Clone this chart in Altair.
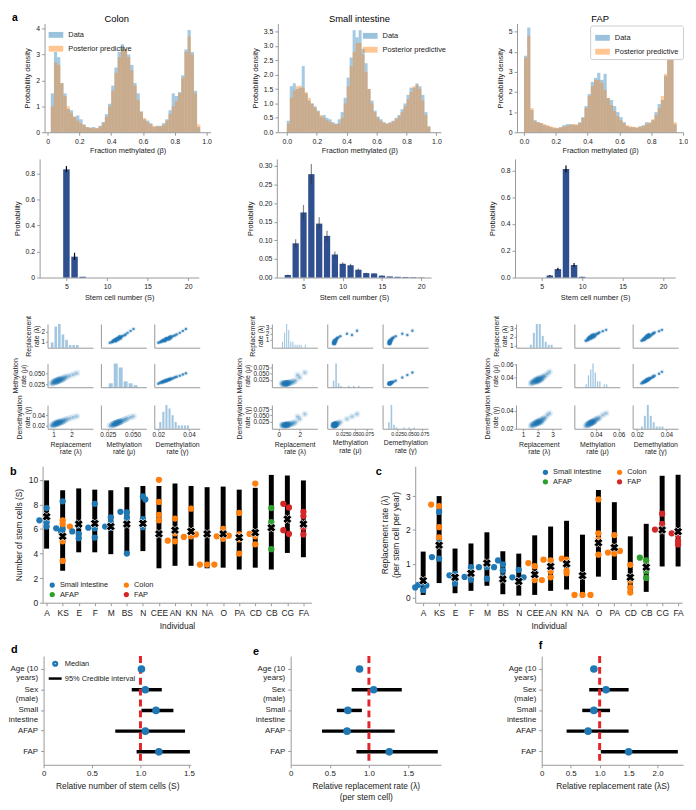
import altair as alt
import pandas as pd

FONT = "Liberation Sans"
BLUE = "#1f77b4"
ORANGE = "#ff7f0e"
GREEN = "#2ca02c"
RED = "#d62728"
BAR = "#2f4f8f"

# ---------------- a, row 1: methylation histograms (50 bins on [0, 1]) ----------------
colon_data = [0, 1.5, 3.1, 2.9, 1.9, 1.5, 0.9, 0.85, 0.6, 0.65, 0.5, 0.3, 0.2, 0.18, 0.2, 0.15, 0.25, 0.4, 0.7, 1.1,
              1.8, 2.5, 3.1, 3.4, 3.2, 3.0, 2.6, 1.9, 1.5, 0.8, 0.5, 0.45, 0.35, 0.2, 0.25, 0.25, 0.35, 0.5, 0.85, 1.5,
              1.4, 1.55, 2.2, 3.2, 3.95, 3.1, 1.6, 0.2, 0, 0]
colon_pred = [0, 1.0, 2.7, 2.6, 1.9, 1.4, 1.0, 0.75, 0.6, 0.45, 0.35, 0.28, 0.2, 0.17, 0.15, 0.17, 0.22, 0.35, 0.6, 1.0,
              1.6, 2.3, 2.9, 3.2, 3.2, 2.9, 2.4, 1.8, 1.25, 0.8, 0.55, 0.4, 0.3, 0.25, 0.22, 0.22, 0.3, 0.45, 0.7, 1.0,
              1.2, 1.5, 2.1, 3.1, 3.7, 3.0, 1.5, 0.3, 0, 0]
si_data = [0.4, 1.6, 1.7, 1.5, 1.55, 2.3, 1.35, 1.1, 1.0, 0.9, 0.75, 0.55, 0.6, 0.5, 0.45, 0.35, 0.3, 0.45, 0.7, 1.2,
           1.9, 2.6, 3.55, 3.3, 3.55, 2.9, 2.4, 1.5, 1.1, 0.75, 0.55, 0.45, 0.35, 0.3, 0.35, 0.4, 0.5, 0.6, 0.8, 1.0,
           1.3, 1.55, 1.55, 1.7, 1.6, 1.3, 0.7, 0.2, 0, 0]
si_pred = [0.3, 1.2, 1.45, 1.6, 1.62, 1.55, 1.4, 1.2, 1.0, 0.85, 0.72, 0.6, 0.5, 0.42, 0.35, 0.3, 0.28, 0.3, 0.5, 1.0,
           1.6, 2.3, 2.8, 3.1, 3.1, 2.7, 2.1, 1.5, 1.0, 0.7, 0.5, 0.4, 0.33, 0.3, 0.32, 0.38, 0.45, 0.55, 0.7, 0.9,
           1.15, 1.4, 1.6, 1.65, 1.5, 1.1, 0.6, 0.2, 0, 0]
fap_data = [3.8, 5.2, 1.1, 0.6, 0.5, 0.45, 0.35, 0.3, 0.25, 0.2, 0.2, 0.25, 0.35, 0.4, 0.4, 0.38, 0.35, 0.5, 0.75, 1.3,
            1.9, 2.5, 2.7, 2.95, 2.6, 2.9, 1.7, 1.6, 1.3, 1.0, 0.75, 0.5, 0.3, 0.25, 0.25, 0.22, 0.3, 0.35, 0.5, 0.45,
            0.6, 1.0, 1.4, 1.6, 2.8, 4.3, 3.8, 0.4, 0, 0]
fap_pred = [3.7, 4.8, 1.2, 0.55, 0.5, 0.45, 0.4, 0.35, 0.3, 0.25, 0.22, 0.25, 0.28, 0.32, 0.38, 0.4, 0.4, 0.45, 0.7, 1.2,
            1.8, 2.3, 2.6, 2.6, 2.45, 2.1, 1.7, 1.35, 1.05, 0.8, 0.6, 0.45, 0.35, 0.3, 0.27, 0.25, 0.27, 0.32, 0.4, 0.5,
            0.65, 0.85, 1.2, 1.8, 2.9, 4.3, 3.6, 0.5, 0, 0]

# ---------------- a, row 2: stem cell number posteriors ----------------
colon_S = [5, 6, 7]
colon_p = [0.83, 0.16, 0.006]
colon_lo = [0.81, 0.135, 0.006]
colon_hi = [0.855, 0.19, 0.006]
si_S = list(range(3, 21))
si_p = [0.007, 0.092, 0.175, 0.278, 0.145, 0.112, 0.062, 0.037, 0.033, 0.021, 0.012, 0.011, 0.005, 0.003, 0.002, 0.0015, 0.001, 0.0006]
si_lo = [0.006, 0.082, 0.155, 0.250, 0.130, 0.098, 0.055, 0.033, 0.029, 0.019, 0.011, 0.010, 0.004, 0.003, 0.002, 0.0015, 0.001, 0.0006]
si_hi = [0.008, 0.103, 0.195, 0.305, 0.162, 0.126, 0.070, 0.041, 0.037, 0.024, 0.013, 0.012, 0.006, 0.003, 0.002, 0.0015, 0.001, 0.0006]
fap_S = [6, 7, 8, 9, 10]
fap_p = [0.015, 0.063, 0.81, 0.093, 0.005]
fap_lo = [0.012, 0.055, 0.785, 0.08, 0.004]
fap_hi = [0.018, 0.072, 0.835, 0.108, 0.006]

# ---------------- a, rows 3-5: posterior samples (lambda, mu, gamma) ----------------
colon_lam = [1.10, 1.25, 1.35, 1.05, 1.45, 1.20, 0.95, 1.60, 1.30, 1.15, 1.75, 1.40, 1.00, 1.25, 1.90, 1.50, 1.10, 1.35, 2.10, 1.22, 0.90, 1.65, 1.28, 1.18, 1.45, 1.05, 2.30, 1.33, 1.12, 1.55]
colon_mu = [0.032, 0.034, 0.036, 0.030, 0.038, 0.033, 0.029, 0.040, 0.035, 0.031, 0.043, 0.037, 0.030, 0.033, 0.045, 0.039, 0.031, 0.034, 0.048, 0.036, 0.027, 0.042, 0.035, 0.032, 0.036, 0.033, 0.051, 0.038, 0.034, 0.037]
colon_gam = [0.023, 0.025, 0.026, 0.022, 0.028, 0.024, 0.021, 0.030, 0.026, 0.023, 0.032, 0.027, 0.022, 0.025, 0.034, 0.029, 0.023, 0.025, 0.036, 0.027, 0.020, 0.031, 0.026, 0.024, 0.027, 0.024, 0.038, 0.028, 0.025, 0.028]
si_lam = [0.55, 0.75, 0.65, 0.85, 0.45, 1.00, 0.70, 0.60, 1.20, 0.80, 0.35, 0.95, 0.72, 1.40, 0.58, 0.88, 1.60, 0.68, 0.50, 1.05, 2.00, 0.78, 0.62, 1.30, 2.50, 0.40, 0.92, 1.80, 0.30, 0.82]
si_mu = [0.010, 0.011, 0.009, 0.012, 0.009, 0.013, 0.010, 0.011, 0.015, 0.012, 0.008, 0.011, 0.010, 0.018, 0.009, 0.013, 0.022, 0.010, 0.012, 0.014, 0.035, 0.011, 0.010, 0.016, 0.055, 0.009, 0.012, 0.045, 0.011, 0.010]
si_gam = [0.010, 0.011, 0.009, 0.012, 0.009, 0.013, 0.010, 0.011, 0.015, 0.011, 0.008, 0.012, 0.010, 0.018, 0.009, 0.013, 0.022, 0.010, 0.012, 0.014, 0.035, 0.011, 0.010, 0.016, 0.055, 0.009, 0.012, 0.045, 0.011, 0.010]
fap_lam = [1.90, 2.05, 1.75, 2.20, 1.95, 1.60, 2.35, 2.00, 1.85, 2.10, 2.50, 1.80, 2.15, 1.70, 2.25, 1.98, 2.65, 1.92, 2.08, 1.55, 2.30, 1.88, 2.02, 2.40, 1.78, 2.12, 1.65, 2.80, 1.95, 2.18]
fap_mu = [0.035, 0.037, 0.034, 0.039, 0.036, 0.032, 0.041, 0.035, 0.033, 0.038, 0.043, 0.036, 0.037, 0.033, 0.040, 0.034, 0.046, 0.036, 0.039, 0.031, 0.038, 0.035, 0.036, 0.042, 0.034, 0.037, 0.033, 0.049, 0.038, 0.036]
fap_gam = [0.026, 0.027, 0.025, 0.029, 0.027, 0.024, 0.031, 0.026, 0.025, 0.028, 0.032, 0.026, 0.028, 0.024, 0.030, 0.026, 0.035, 0.027, 0.029, 0.023, 0.028, 0.026, 0.027, 0.031, 0.025, 0.027, 0.025, 0.037, 0.028, 0.027]

# ---------------- b, c: per-individual estimates ----------------
individuals = ["A", "KS", "E", "F", "M", "BS", "N", "CEE", "AN", "KN", "NA", "O", "PA", "CD", "CB", "CG", "FA"]
S_lo = [4.4, 2.6, 4.1, 4.1, 3.95, 3.95, 4.2, 2.8, 3.0, 3.0, 2.8, 2.85, 2.7, 2.85, 2.7, 4.05, 3.7]
S_hi = [9.95, 9.15, 9.3, 9.2, 9.15, 9.4, 9.5, 9.5, 9.7, 9.5, 9.4, 9.45, 9.2, 9.35, 10.4, 10.35, 9.95]
S_med = [7.0, 5.4, 6.4, 6.45, 6.2, 6.4, 6.45, 5.6, 5.9, 5.8, 5.6, 5.6, 5.3, 5.7, 6.1, 6.8, 6.4]
SI, CO, AF, FP = "Small intestine", "Colon", "AFAP", "FAP"
S_points = [
    ("A", -0.45, 6.7, SI), ("A", 0, 7.7, SI), ("A", 0, 6.55, SI), ("A", 0, 6.2, SI),
    ("KS", -0.4, 6.05, SI), ("KS", 0, 8.25, SI), ("KS", 0, 6.0, SI), ("KS", -0.1, 5.8, SI),
    ("KS", 0.45, 6.2, CO), ("KS", 0, 6.7, CO), ("KS", 0, 6.4, CO), ("KS", 0, 5.0, CO), ("KS", 0, 3.4, CO),
    ("E", -0.4, 5.8, SI), ("E", 0, 6.4, SI), ("E", 0, 5.6, SI), ("E", 0, 5.25, SI), ("E", 0, 6.3, SI),
    ("F", -0.4, 6.1, SI), ("F", 0, 8.05, SI), ("F", 0, 6.05, SI), ("F", 0, 5.3, SI),
    ("M", -0.35, 6.2, SI), ("M", 0, 6.95, SI), ("M", 0, 6.5, SI), ("M", 0, 6.1, SI),
    ("BS", -0.4, 7.4, SI), ("BS", 0, 7.35, SI), ("BS", 0, 6.9, SI), ("BS", 0, 4.0, SI),
    ("N", 0, 8.65, SI), ("N", 0.15, 8.4, SI), ("N", 0, 6.8, SI), ("N", 0, 6.15, SI),
    ("CEE", 0, 10.0, CO), ("CEE", 0, 8.2, CO), ("CEE", 0, 7.15, CO), ("CEE", 0, 6.7, CO),
    ("AN", -0.45, 5.05, CO), ("AN", 0, 6.85, CO), ("AN", 0, 5.65, CO), ("AN", 0, 5.0, CO),
    ("KN", -0.45, 5.35, CO), ("KN", 0, 7.65, CO), ("KN", 0, 5.4, CO), ("KN", 0.3, 5.55, CO),
    ("NA", -0.45, 3.1, CO), ("NA", 0, 3.1, CO), ("NA", 0.45, 3.1, CO),
    ("O", -0.4, 5.4, CO), ("O", 0, 6.0, CO), ("O", 0, 5.2, CO), ("O", 0.35, 5.45, CO),
    ("PA", 0, 7.3, CO), ("PA", 0, 5.55, CO), ("PA", 0, 5.15, CO), ("PA", 0, 4.0, CO),
    ("CD", -0.35, 5.6, CO), ("CD", 0, 9.7, CO), ("CD", 0, 5.4, CO), ("CD", 0, 4.75, CO),
    ("CB", 0, 7.7, AF), ("CB", 0, 6.55, AF), ("CB", 0, 6.1, AF), ("CB", 0, 4.35, AF),
    ("CG", -0.25, 8.05, FP), ("CG", 0.1, 7.75, FP), ("CG", -0.25, 5.9, FP), ("CG", 0.1, 5.6, FP),
    ("FA", 0, 7.4, FP), ("FA", 0, 7.05, FP), ("FA", 0, 6.1, FP), ("FA", 0, 5.55, FP),
]
L_lo = [0.08, 0.43, 0.13, 0.2, 0.35, 0.1, 0.06, 0.08, 0.2, 0.24, 0.05, 0.62, 0.52, 0.17, 0.17, 0.92, 0.92]
L_hi = [1.36, 3.0, 1.45, 1.6, 1.93, 1.37, 1.3, 1.84, 2.1, 2.27, 1.86, 3.18, 2.82, 1.81, 2.18, 3.6, 3.63]
L_med = [0.5, 1.55, 0.6, 0.72, 1.02, 0.55, 0.48, 0.68, 0.92, 1.0, 0.65, 1.62, 1.48, 0.6, 0.9, 2.0, 1.95]
L_points = [
    ("A", -0.5, 0.3, SI), ("A", -0.3, 0.38, SI), ("A", 0, 0.22, SI), ("A", 0.2, 0.36, SI), ("A", 0, 0.42, SI),
    ("KS", -0.5, 2.75, CO), ("KS", 0, 2.7, CO), ("KS", 0, 2.08, CO), ("KS", 0, 1.78, CO),
    ("KS", 0, 2.53, SI), ("KS", -0.45, 1.2, SI), ("KS", 0, 1.62, SI), ("KS", 0, 1.15, SI),
    ("E", -0.35, 0.66, SI), ("E", 0, 0.7, SI), ("E", 0, 0.6, SI), ("E", 0, 0.42, SI),
    ("F", -0.4, 0.61, SI), ("F", 0, 0.9, SI), ("F", 0, 0.82, SI), ("F", 0, 0.53, SI),
    ("M", -0.5, 0.9, SI), ("M", 0, 0.9, SI), ("M", 0.45, 0.9, SI), ("M", 0, 0.56, SI),
    ("BS", -0.3, 1.1, SI), ("BS", 0, 0.98, SI), ("BS", 0, 0.8, SI), ("BS", 0, 0.6, SI),
    ("N", -0.4, 0.6, SI), ("N", 0, 0.82, SI), ("N", 0.3, 0.6, SI), ("N", 0, 0.5, SI),
    ("CEE", -0.4, 1.02, CO), ("CEE", 0, 0.93, CO), ("CEE", 0, 0.52, CO), ("CEE", 0.45, 0.52, CO),
    ("AN", -0.45, 1.12, CO), ("AN", 0, 1.1, CO), ("AN", 0, 0.78, CO), ("AN", 0, 0.6, CO),
    ("KN", -0.3, 1.15, CO), ("KN", 0, 1.12, CO), ("KN", 0, 0.8, CO), ("KN", 0, 0.72, CO),
    ("NA", -0.5, 0.08, CO), ("NA", 0, 0.08, CO), ("NA", 0.5, 0.08, CO),
    ("O", 0, 2.9, CO), ("O", 0, 1.9, CO), ("O", 0, 1.72, CO), ("O", 0, 1.27, CO),
    ("PA", -0.4, 1.33, CO), ("PA", 0, 1.85, CO), ("PA", 0.35, 1.38, CO), ("PA", 0, 1.3, CO),
    ("CD", 0, 0.97, CO), ("CD", 0, 0.5, CO), ("CD", 0, 0.3, CO), ("CD", 0, 0.15, CO),
    ("CB", -0.4, 1.18, AF), ("CB", 0, 1.1, AF), ("CB", 0, 0.78, AF), ("CB", 0, 0.58, AF),
    ("CG", -0.45, 2.01, FP), ("CG", 0, 2.48, FP), ("CG", 0, 2.18, FP), ("CG", 0, 1.98, FP),
    ("FA", -0.4, 1.9, FP), ("FA", 0, 1.85, FP), ("FA", 0, 1.67, FP), ("FA", 0, 1.57, FP),
]

# ---------------- d, e, f: regression effects ----------------
covariates = ["Age (10|years)", "Sex|(male)", "Small|intestine", "AFAP", "FAP"]
d_med = [1.01, 1.05, 1.16, 1.05, 1.19]
d_lo = [0.99, 0.91, 1.01, 0.74, 0.96]
d_hi = [1.02, 1.22, 1.34, 1.46, 1.51]
e_med = [0.88, 1.06, 0.73, 0.72, 1.26]
e_lo = [0.87, 0.78, 0.59, 0.40, 0.84]
e_hi = [0.89, 1.42, 0.91, 1.33, 1.88]
f_med = [0.90, 1.11, 0.90, 0.80, 1.50]
f_lo = [0.89, 0.82, 0.70, 0.43, 1.02]
f_hi = [0.91, 1.50, 1.18, 1.50, 2.35]

TISSUES = [SI, AF, CO, FP]
TISSUE_COLORS = [BLUE, GREEN, ORANGE, RED]
DUMMY = pd.DataFrame({"z": [0]})
ZERO_EXPR = "datum.value == 0 ? '0' : format(datum.value, '.1f')"


def spacer(w, h, title=None):
    sp = alt.Chart(DUMMY).mark_point(opacity=0, size=0).encode(x=alt.value(0), y=alt.value(0))
    if title:
        return sp.properties(width=w, height=h, title=title)
    return sp.properties(width=w, height=h)


def letter(ch, x, y):
    return alt.Chart(DUMMY).mark_text(text=ch, font=FONT, fontSize=11, fontWeight="bold",
                                      align="left", baseline="top", color="black").encode(
        x=alt.value(x), y=alt.value(y))


def independent(ch):
    return ch.resolve_scale(color="independent", shape="independent").resolve_legend(
        color="independent", shape="independent")


def hist_panel(title, dvals, pvals, xdom, xexpr, ydom, yvals, yfmt, w, h, lx, ly, framed, tdx=0):
    bw = 1.0 / len(dvals)
    rows = [{"series": "Data", "b0": i * bw, "b1": (i + 1) * bw, "dens": v} for i, v in enumerate(dvals)]
    rows += [{"series": "Posterior predictive", "b0": i * bw, "b1": (i + 1) * bw, "dens": v} for i, v in enumerate(pvals)]
    df = pd.DataFrame(rows)
    lkw = dict(orient="none", legendX=lx, legendY=ly, title=None, symbolType="M-1,-0.4H1V0.4H-1Z",
               symbolSize=220, symbolOpacity=0.45, labelFontSize=7.5, rowPadding=2, labelOffset=4)
    if framed:
        lkw.update(padding=4, strokeColor="#cccccc", fillColor="white", cornerRadius=2)
    bars = alt.Chart(df).mark_bar(opacity=0.4).encode(
        x=alt.X("b0:Q", scale=alt.Scale(domain=xdom, nice=False, zero=False),
                axis=alt.Axis(values=[0, 0.2, 0.4, 0.6, 0.8, 1.0], labelExpr=xexpr, title="Fraction methylated (β)",
                              labelFontSize=7, titleFontSize=7.5, tickSize=3, titlePadding=3)),
        x2="b1:Q",
        y=alt.Y("dens:Q", stack=None, scale=alt.Scale(domain=ydom, nice=False),
                axis=alt.Axis(values=yvals, format=yfmt, title="Probability density",
                              labelFontSize=7, titleFontSize=7.5, tickSize=3, titlePadding=4)),
        y2=alt.datum(0),
        color=alt.Color("series:N", scale=alt.Scale(domain=["Data", "Posterior predictive"], range=[BLUE, ORANGE]),
                        legend=alt.Legend(**lkw)),
    )
    return bars.properties(
        width=w, height=h,
        title=alt.TitleParams(title, fontSize=9.5, fontWeight="normal", font=FONT, offset=0, anchor="middle",
                              frame="group", dx=tdx))


def s_panel(S, p, lo, hi, xdom, ydom, yvals, yfmt=None, yexpr=None, w=160, h=115, errcolor="black", erropacity=1.0):
    df = pd.DataFrame({"S": S, "p": p, "lo": lo, "hi": hi})
    xs = alt.Scale(domain=xdom, nice=False, zero=False)
    ys = alt.Scale(domain=ydom, nice=False)
    xax = alt.Axis(values=[5, 10, 15, 20], title="Stem cell number (S)", labelFontSize=7, titleFontSize=7.5, tickSize=3)
    ykw = dict(values=yvals, title="Probability", labelFontSize=7, titleFontSize=7.5, tickSize=3, titlePadding=4)
    if yfmt:
        ykw["format"] = yfmt
    if yexpr:
        ykw["labelExpr"] = yexpr
    yax = alt.Axis(**ykw)
    base = alt.Chart(df)
    bars = base.transform_calculate(a="datum.S - 0.4", b="datum.S + 0.4").mark_bar(color=BAR).encode(
        x=alt.X("a:Q", scale=xs, axis=xax, title="Stem cell number (S)"), x2="b:Q",
        y=alt.Y("p:Q", scale=ys, axis=yax, title="Probability"), y2=alt.datum(0))
    err = base.mark_rule(color=errcolor, opacity=erropacity, strokeWidth=1.2).encode(
        x=alt.X("S:Q", scale=xs, axis=xax, title="Stem cell number (S)"),
        y=alt.Y("lo:Q", scale=ys, axis=yax, title="Probability"), y2="hi:Q")
    return alt.layer(bars, err).properties(width=w, height=h)


VARS = ["lam", "mu", "gam"]
PP_NAMES = {"lam": ["Replacement", "rate (λ)"], "mu": ["Methylation", "rate (μ)"], "gam": ["Demethylation", "rate (γ)"]}
PW, PH = 46, 24


def pp_axis(show, ticks, fmt, title, orient=None, lsize=6.5):
    if show:
        kw = dict(values=ticks, format=fmt, title=title, labelFontSize=lsize, titleFontSize=7, titleLineHeight=8,
                  tickSize=2, labelPadding=1, titlePadding=2)
    else:
        kw = dict(labels=False, ticks=False, title=None)
    if orient:
        kw["orient"] = orient
    return alt.Axis(**kw)


def pp_panel(df, spec, r, c):
    xv, yv = VARS[c], VARS[r]
    xs = alt.Scale(domain=spec["xdom"][xv], nice=False, zero=False)
    ys = alt.Scale(domain=spec["ydom"][yv], nice=False, zero=False)
    xax = pp_axis(r == 2, spec["ticks"][xv] if xv != "lam" else spec["lamx"], spec["fmt"][xv], PP_NAMES[xv],
                  lsize=spec.get("xlsize", 6.5) if xv != "lam" else 6.5)
    yax = pp_axis(c == 0, spec["ticks"][yv] if yv != "lam" else spec["lamy"], spec["fmt"][yv], PP_NAMES[yv], orient="left")
    if r == c:
        hist = alt.Chart(df).mark_bar(color=BLUE, opacity=0.42).encode(
            x=alt.X(f"{xv}:Q", bin=alt.Bin(extent=spec["xdom"][xv], maxbins=22), scale=xs, axis=xax),
            y=alt.Y("count():Q", scale=alt.Scale(nice=False), axis=None if c == 0 else yax))
        if c == 0:
            ghost = alt.Chart(df).mark_point(opacity=0).encode(
                x=alt.value(0), y=alt.Y(f"{yv}:Q", scale=ys, axis=yax))
            return alt.layer(hist, ghost).resolve_scale(y="independent").properties(width=PW, height=PH)
        return hist.properties(width=PW, height=PH)
    pts = alt.Chart(df).encode(x=alt.X(f"{xv}:Q", scale=xs, axis=xax), y=alt.Y(f"{yv}:Q", scale=ys, axis=yax))
    if r < c:
        return alt.layer(
            pts.mark_circle(size=22, opacity=0.12, color=BLUE, clip=True),
            pts.mark_circle(size=6, opacity=0.8, color=BLUE, clip=True),
        ).properties(width=PW, height=PH)
    return alt.layer(
        pts.mark_circle(size=45, opacity=0.13, color=BLUE, clip=True),
        pts.mark_circle(size=10, opacity=0.3, color=BLUE, clip=True),
    ).properties(width=PW, height=PH)


colon_spec = {
    "xdom": {"lam": [0.67, 3.2], "mu": [0.018, 0.064], "gam": [0.0174, 0.047]},
    "ydom": {"lam": [0.4, 2.8], "mu": [0.019, 0.073], "gam": [0.0144, 0.059]},
    "ticks": {"mu": [0.025, 0.05], "gam": [0.02, 0.04]}, "lamx": [1, 2], "lamy": [1, 2],
    "fmt": {"lam": "d", "mu": ".3f", "gam": ".2f"},
}
si_spec = {
    "xdom": {"lam": [-0.67, 3.7], "mu": [-0.004, 0.086], "gam": [-0.004, 0.086]},
    "ydom": {"lam": [-0.3, 3.6], "mu": [-0.005, 0.092], "gam": [-0.005, 0.092]},
    "ticks": {"mu": [0.025, 0.05, 0.075], "gam": [0.025, 0.05, 0.075]}, "lamx": [0, 2], "lamy": [1, 2, 3],
    "fmt": {"lam": "d", "mu": ".3f", "gam": ".3f"}, "xlsize": 5.2,
}
fap_spec = {
    "xdom": {"lam": [0.53, 3.6], "mu": [0.021, 0.061], "gam": [0.017, 0.048]},
    "ydom": {"lam": [0.76, 3.47], "mu": [0.025, 0.062], "gam": [0.02, 0.046]},
    "ticks": {"mu": [0.04, 0.06], "gam": [0.02, 0.04]}, "lamx": [1, 2, 3], "lamy": [1, 2, 3],
    "fmt": {"lam": "d", "mu": ".2f", "gam": ".2f"},
}
colon_df = pd.DataFrame({"lam": colon_lam, "mu": colon_mu, "gam": colon_gam})
si_df = pd.DataFrame({"lam": si_lam, "mu": si_mu, "gam": si_gam})
fap_df = pd.DataFrame({"lam": fap_lam, "mu": fap_mu, "gam": fap_gam})

IND_EXPR = "[" + ",".join("'%s'" % s for s in individuals) + "][datum.value]"


def indiv_panel(lo, hi, med, points, xdom, ydom, yvals, ytitle, w, h, lx, ly, let):
    ci = pd.DataFrame({"idx": list(range(len(individuals))), "lo": lo, "hi": hi, "med": med})
    pdf = pd.DataFrame(points, columns=["ind", "dx", "val", "tissue"])
    pdf["idx"] = [individuals.index(s) for s in pdf["ind"]]
    xs = alt.Scale(domain=xdom, nice=False, zero=False)
    ys = alt.Scale(domain=ydom, nice=False, zero=False)
    xax = alt.Axis(values=list(range(len(individuals))), labelExpr=IND_EXPR, title="Individual",
                   labelFontSize=8.5, titleFontSize=8.5, tickSize=3, labelPadding=3, titlePadding=5)
    yax = alt.Axis(values=yvals, title=ytitle, labelFontSize=8.5, titleFontSize=8.5, tickSize=3, titlePadding=5,
                   titleLineHeight=11)
    bars = alt.Chart(ci).mark_rule(color="black", strokeWidth=5).encode(
        x=alt.X("idx:Q", scale=xs, axis=xax), y=alt.Y("lo:Q", scale=ys, axis=yax), y2="hi:Q")
    dots = alt.Chart(pdf).transform_calculate(xpos="datum.idx + datum.dx").mark_circle(size=40, opacity=1).encode(
        x=alt.X("xpos:Q", scale=xs, axis=xax), y=alt.Y("val:Q", scale=ys, axis=yax),
        color=alt.Color("tissue:N", scale=alt.Scale(domain=TISSUES, range=TISSUE_COLORS),
                        legend=alt.Legend(orient="none", legendX=lx, legendY=ly, columns=2, title=None,
                                          symbolType="circle", symbolSize=28, labelFontSize=7.5,
                                          columnPadding=14, rowPadding=1, symbolOpacity=1)))
    marks = alt.Chart(ci).mark_point(shape="cross", angle=45, filled=True, size=80, color="black",
                                     stroke="white", strokeWidth=0.7, opacity=1).encode(
        x=alt.X("idx:Q", scale=xs, axis=xax), y=alt.Y("med:Q", scale=ys, axis=yax))
    return alt.layer(bars, dots, marks, letter(let[0], let[1], let[2])).properties(width=w, height=h)


def forest_panel(med, lo, hi, xdom, xvals, xtitle, w, h, let, legend_xy=None):
    df = pd.DataFrame({"cov": covariates, "med": med, "lo": lo, "hi": hi})
    xs = alt.Scale(domain=xdom, nice=False, zero=False)
    ys = alt.Scale(domain=covariates, padding=0.25)
    xax = alt.Axis(values=xvals, labelExpr=ZERO_EXPR, title=xtitle, labelFontSize=8, titleFontSize=8.5,
                   tickSize=3, titlePadding=4, titleLineHeight=11)
    yax = alt.Axis(labelExpr="split(datum.value, '|')", title=None, labelFontSize=8, labelLineHeight=9.5,
                   tickSize=3, labelPadding=3)
    ci = alt.Chart(df).mark_rule(color="black", strokeWidth=3.5).encode(
        x=alt.X("lo:Q", scale=xs, axis=xax), x2="hi:Q", y=alt.Y("cov:N", scale=ys, axis=yax))
    ref = alt.Chart(pd.DataFrame({"lo": [1.0]})).mark_rule(color="#e3242b", strokeWidth=3, strokeDash=[7, 4]).encode(
        x=alt.X("lo:Q", scale=xs, axis=xax))
    dots = alt.Chart(df).mark_circle(size=60, color=BLUE, opacity=1).encode(
        x=alt.X("med:Q", scale=xs, axis=xax), y=alt.Y("cov:N", scale=ys, axis=yax))
    layers = [ci, ref, dots]
    if legend_xy:
        kinds = ["Median", "95% Credible interval"]
        leg_df = pd.DataFrame({"kind": kinds, "med": [1.0, 1.0], "cov": [covariates[0]] * 2})
        lg = dict(orient="none", legendX=legend_xy[0], legendY=legend_xy[1], title=None, symbolOpacity=1,
                  symbolStrokeWidth=2.5, symbolSize=14, labelFontSize=7.5, rowPadding=2, labelOffset=6)
        layers.append(alt.Chart(leg_df).mark_point(opacity=0).encode(
            x=alt.X("med:Q", scale=xs, axis=xax), y=alt.Y("cov:N", scale=ys, axis=yax),
            color=alt.Color("kind:N", scale=alt.Scale(domain=kinds, range=[BLUE, "black"]), legend=alt.Legend(**lg)),
            shape=alt.Shape("kind:N", scale=alt.Scale(domain=kinds, range=["circle", "M-3.5,0H3.5"]),
                            legend=alt.Legend(**lg))))
    layers.append(letter(let[0], let[1], let[2]))
    return alt.layer(*layers).properties(width=w, height=h)


# ---------------- build panels ----------------
HA, HB, HC, HD, HE = 110, 120, PH, 138, 110

colonH = hist_panel("Colon", colon_data, colon_pred, [-0.019, 1.025], ZERO_EXPR, [0, 4.2], [0, 1, 2, 3, 4], "d",
                    168, HA, 3, 3, False, tdx=-11)
siH = hist_panel("Small intestine", si_data, si_pred, [-0.06, 1.03], "format(datum.value, '.1f')", [0, 3.78],
                 [0, 0.5, 1, 1.5, 2, 2.5, 3, 3.5], ".1f", 165, HA, 85, 4, False)
fapH = hist_panel("FAP", fap_data, fap_pred, [-0.044, 1.0], "format(datum.value, '.1f')", [0, 5.4],
                  [0, 1, 2, 3, 4, 5], "d", 168, HA, 74, 2, True)
a_title = alt.TitleParams("a", fontSize=10.5, fontWeight="bold", font=FONT, anchor="start", offset=0, dx=-28)

colonB = s_panel(colon_S, colon_p, colon_lo, colon_hi, [1.7, 21.3], [0, 0.91], [0, 0.2, 0.4, 0.6, 0.8],
                 yexpr=ZERO_EXPR, w=161, h=HB)
siB = s_panel(si_S, si_p, si_lo, si_hi, [1.6, 21.26], [0, 0.319], [0, 0.05, 0.1, 0.15, 0.2, 0.25, 0.3],
              yfmt=".2f", w=156, h=HB, errcolor="#333333", erropacity=0.6)
fapB = s_panel(fap_S, fap_p, fap_lo, fap_hi, [1.7, 21.5], [0, 0.885], [0, 0.2, 0.4, 0.6, 0.8],
               yfmt=".1f", w=162, h=HB)

bChart = indiv_panel(S_lo, S_hi, S_med, S_points, [-0.25, 16.5], [0, 11.1], [0, 2, 4, 6, 8, 10],
                     "Number of stem cells (S)", 272, HD, 6, 116, ("b", -33, 0))
cChart = indiv_panel(L_lo, L_hi, L_med, L_points, [-0.5, 16.25], [-0.15, 3.88], [0, 1, 2, 3],
                     ["Replacement rate (λ)", "(per stem cell per year)"], 270, HD, 128, 2, ("c", -40, 0))

dChart = forest_panel(d_med, d_lo, d_hi, [0, 1.52], [0, 0.5, 1, 1.5], "Relative number of stem cells (S)",
                      149, HE, ("d", -33, -12), legend_xy=(8, 4))
eChart = forest_panel(e_med, e_lo, e_hi, [0, 1.92], [0, 0.5, 1, 1.5],
                      ["Relative replacement rate (λ)", "(per stem cell)"], 152, HE, ("e", -38, -10))
fChart = forest_panel(f_med, f_lo, f_hi, [0, 2.44], [0, 0.5, 1, 1.5, 2], "Relative replacement rate (λS)",
                      143, HE, ("f", -3, -16))


def hrow(items, h):
    out = [spacer(it, h) if isinstance(it, (int, float)) else it for it in items]
    return independent(alt.hconcat(*out, spacing=0, bounds="flush"))


rows = [
    hrow([spacer(5, HA, a_title), colonH, 68, siH, 77, fapH], HA),
    spacer(1, 4),
    hrow([colonB, 79, siB, 85, fapB], HB),
    spacer(1, 14),
]
for r in range(3):
    rows.append(hrow([8, pp_panel(colon_df, colon_spec, r, 0), 8, pp_panel(colon_df, colon_spec, r, 1), 8,
                      pp_panel(colon_df, colon_spec, r, 2), 73,
                      pp_panel(si_df, si_spec, r, 0), 10, pp_panel(si_df, si_spec, r, 1), 10,
                      pp_panel(si_df, si_spec, r, 2), 89,
                      pp_panel(fap_df, fap_spec, r, 0), 13, pp_panel(fap_df, fap_spec, r, 1), 13,
                      pp_panel(fap_df, fap_spec, r, 2)], HC))
    if r < 2:
        rows.append(spacer(1, 1))
rows += [
    spacer(1, 11),
    hrow([3, bChart, 105, cChart], HD),
    spacer(1, 10),
    hrow([4, dChart, 101, eChart, 102, fChart], HE),
]

chart = independent(alt.vconcat(*rows, spacing=0)).properties(padding=0)
chart = chart.configure(font=FONT).configure_view(stroke=None).configure_axis(
    grid=False, labelFlush=False, labelOverlap=False, domainColor="#999999", tickColor="#999999",
    labelColor="#222222", titleColor="#222222", titleFontWeight="normal", labelFont=FONT, titleFont=FONT,
    domainWidth=1, tickWidth=1).configure_legend(labelFont=FONT, labelColor="#222222").configure_title(
    font=FONT, fontWeight="normal")

chart.save("out.html", embed_options={"renderer": "svg", "actions": False})
